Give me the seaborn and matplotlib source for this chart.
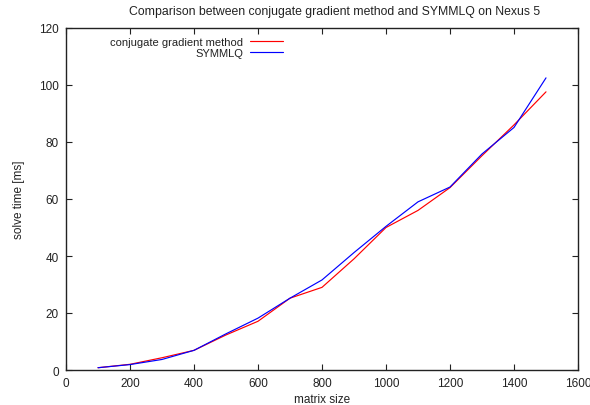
import matplotlib
matplotlib.use("Agg")
import matplotlib.pyplot as plt
import seaborn as sns
import pandas as pd

matrix_size = [100, 200, 300, 400, 500, 600, 700, 800, 900, 1000, 1100, 1200, 1300, 1400, 1500]
cg_time = [0.8, 2.0, 4.3, 6.9, 12.3, 17.1, 25.2, 29.0, 39.0, 50.0, 56.0, 64.0, 75.2, 86.0, 97.6]
symmlq_time = [0.8, 1.9, 3.7, 6.9, 12.7, 18.2, 25.2, 31.6, 41.2, 50.4, 59.0, 64.2, 75.8, 85.1, 102.5]
series_names = ["conjugate gradient method", "SYMMLQ"]
colors = ["#ff0000", "#0000ff"]
x_ticks = [0, 200, 400, 600, 800, 1000, 1200, 1400, 1600]
y_ticks = [0, 20, 40, 60, 80, 100, 120]

df = pd.DataFrame({
    "matrix size": matrix_size * 2,
    "solve time [ms]": cg_time + symmlq_time,
    "method": [series_names[0]] * len(matrix_size) + [series_names[1]] * len(matrix_size),
})

sns.set_style("ticks")
plt.rcParams["font.family"] = ["Liberation Sans", "DejaVu Sans"]
plt.rcParams["text.color"] = "#222222"
plt.rcParams["axes.labelcolor"] = "#222222"
plt.rcParams["xtick.color"] = "#222222"
plt.rcParams["ytick.color"] = "#222222"

fig = plt.figure(figsize=(5.9, 4.06), dpi=100)
ax = fig.add_axes([66/590, 1 - 371/406, 512/590, 342/406])
sns.lineplot(data=df, x="matrix size", y="solve time [ms]", hue="method",
             palette=dict(zip(series_names, colors)), ax=ax, linewidth=0.85,
             estimator=None, sort=False)

ax.set_xlim(0, 1600)
ax.set_ylim(0, 120)
ax.set_xticks(x_ticks)
ax.set_yticks(y_ticks)
ax.tick_params(direction="in", top=True, right=True, labelsize=8.5, length=4, width=0.8, pad=5)
for s in ax.spines.values():
    s.set_linewidth(1.0)
    s.set_color("#222222")
    s.set_visible(True)
ax.set_xlabel("matrix size", fontsize=8.5, labelpad=3)
ax.set_ylabel("solve time [ms]", fontsize=8.5, labelpad=10)
ax.set_title("Comparison between conjugate gradient method and SYMMLQ on Nexus 5",
             fontsize=8.8, pad=10, x=0.525)

leg = ax.legend(loc="upper right", bbox_to_anchor=(0.424, 0.975), frameon=False, fontsize=8,
                markerfirst=False, handlelength=3.0, handletextpad=0.6, labelspacing=0.1,
                borderaxespad=0.0, borderpad=0.0)

fig.savefig("out.png", dpi=100)
